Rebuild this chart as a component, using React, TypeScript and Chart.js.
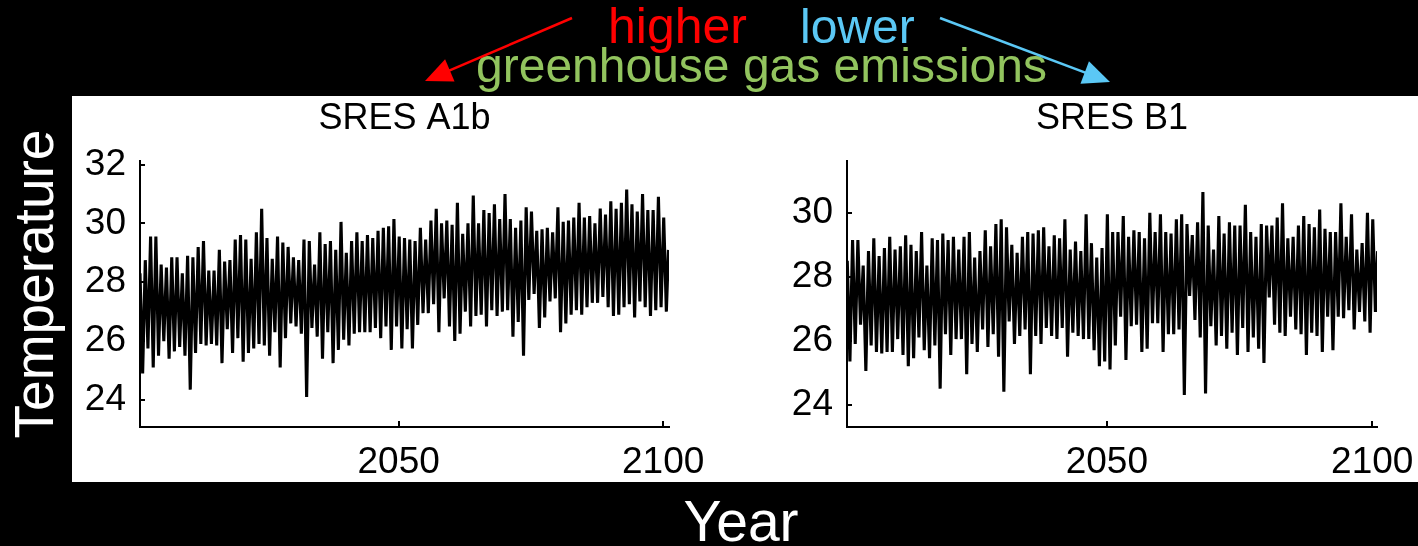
import React, { useEffect, useRef } from 'react';
import { Chart, registerables } from 'chart.js';

Chart.register(...registerables);

// ---------- data ----------
const YEARS: number[] = Array.from({ length: 100 }, (_, i) => 2001 + i);
const X_TICKS = [2050, 2100];

// SRES A1b : yearly seasonal maximum / minimum
const A1B_PEAKS = [
  28.3, 28.75, 29.55, 29.55, 28.6, 28.5, 28.85, 28.85, 28.3, 28.9,
  28.85, 29.2, 29.4, 28.4, 28.4, 29.1, 28.7, 28.75, 29.45, 29.6,
  29.45, 28.8, 29.7, 30.5, 29.5, 28.8, 29.55, 29.35, 29.2, 28.85,
  28.75, 29.45, 29.4, 28.6, 29.7, 29.3, 29.4, 29.1, 30.05, 29.0,
  29.4, 29.7, 29.4, 29.6, 29.5, 29.75, 29.85, 29.9, 30.15, 29.55,
  29.5, 29.45, 29.4, 29.85, 29.45, 30.1, 30.5, 30.0, 30.1, 29.95,
  30.7, 29.65, 30.0, 30.95, 30.0, 30.45, 30.35, 30.65, 30.15, 31.0,
  30.15, 29.85, 30.1, 30.55, 30.4, 29.75, 29.8, 29.85, 29.7, 30.55,
  30.05, 30.1, 30.2, 30.7, 30.2, 30.25, 30.0, 30.5, 30.3, 30.75,
  30.5, 30.7, 31.15, 30.65, 30.4, 31.0, 30.45, 30.45, 30.9, 30.2,
];
const A1B_TROUGHS = [
  24.9, 25.75, 25.1, 25.5, 26.0, 25.4, 25.65, 25.8, 25.5, 24.35,
  25.6, 25.9, 25.85, 25.9, 25.85, 25.25, 26.4, 25.6, 26.1, 25.3,
  25.6, 25.75, 25.9, 25.85, 25.5, 26.3, 25.1, 26.1, 26.6, 26.5,
  26.25, 24.1, 26.45, 26.15, 25.4, 26.3, 25.25, 25.7, 26.05, 25.85,
  26.25, 26.3, 26.3, 26.3, 26.45, 26.1, 26.5, 25.7, 26.5, 25.75,
  26.4, 25.75, 26.55, 26.95, 26.95, 27.25, 26.3, 27.45, 26.5, 26.0,
  26.25, 27.0, 26.5, 26.85, 26.9, 26.5, 27.05, 26.85, 27.0, 27.05,
  26.15, 26.65, 25.5, 27.4, 27.6, 26.45, 26.8, 27.35, 27.45, 26.3,
  26.6, 26.9, 27.05, 26.9, 27.15, 27.3, 27.3, 27.5, 27.15, 26.85,
  26.9, 27.15, 27.25, 26.8, 27.35, 27.15, 26.85, 27.05, 27.15, 27.0,
];
const A1B_END = 29.1;
const A1B_Y_TICKS = [24, 26, 28, 30, 32];

// SRES B1 : yearly seasonal maximum / minimum
const B1_PEAKS = [
  28.5, 29.15, 29.15, 28.35, 28.8, 29.2, 28.65, 28.9, 29.25, 28.85,
  28.95, 29.3, 29.0, 28.8, 29.4, 28.35, 29.2, 29.15, 29.35, 29.15,
  29.25, 28.85, 29.25, 29.4, 28.6, 28.8, 29.45, 28.95, 29.65, 29.8,
  29.55, 29.0, 28.75, 29.25, 29.4, 29.35, 29.45, 29.55, 28.95, 29.3,
  29.2, 29.8, 28.85, 29.1, 28.8, 29.95, 29.05, 28.6, 28.9, 29.95,
  29.4, 29.4, 29.9, 29.25, 29.45, 29.4, 29.2, 30.0, 29.4, 29.95,
  29.4, 29.35, 29.8, 29.95, 29.65, 29.3, 29.7, 30.65, 29.6, 28.85,
  29.9, 29.35, 29.7, 29.6, 29.6, 30.25, 29.4, 29.25, 29.65, 29.6,
  29.6, 29.85, 30.3, 29.2, 29.25, 29.6, 29.9, 29.65, 29.55, 30.1,
  29.5, 29.4, 29.4, 30.3, 29.25, 29.95, 28.85, 29.05, 30.0, 29.8,
];
const B1_TROUGHS = [
  25.35, 25.9, 26.5, 25.05, 25.85, 25.65, 25.6, 25.65, 25.65, 26.05,
  25.55, 25.2, 25.45, 26.1, 25.7, 25.45, 25.85, 24.5, 26.2, 25.55,
  26.05, 26.05, 24.95, 25.9, 25.65, 26.35, 25.8, 26.2, 25.5, 24.4,
  26.6, 25.9, 26.15, 26.35, 24.95, 26.15, 25.9, 26.4, 26.15, 26.05,
  26.4, 25.5, 26.25, 26.15, 26.05, 26.05, 25.7, 25.2, 25.35, 25.1,
  25.85, 26.75, 25.4, 26.45, 26.5, 25.65, 25.75, 26.55, 26.55, 25.65,
  26.2, 26.2, 26.35, 24.3, 27.4, 26.65, 26.1, 24.35, 26.45, 25.85,
  26.15, 25.75, 26.25, 25.55, 26.4, 25.65, 26.1, 25.75, 25.3, 27.35,
  26.5, 26.25, 26.15, 26.75, 26.35, 26.2, 25.55, 26.25, 26.15, 25.65,
  26.75, 25.7, 26.75, 26.7, 26.95, 26.35, 26.9, 26.6, 26.25, 26.9,
];
const B1_END = 28.8;
const B1_Y_TICKS = [24, 26, 28, 30];

// ---------- helpers ----------
const FONT = '"Liberation Sans", Arial, Helvetica, sans-serif';

function buildSeries(peaks: number[], troughs: number[], end: number) {
  const pts: { x: number; y: number }[] = [];
  YEARS.forEach((yr, i) => {
    pts.push({ x: yr + 0.1, y: peaks[i] });
    pts.push({ x: yr + 0.6, y: troughs[i] });
  });
  pts.push({ x: YEARS[YEARS.length - 1] + 1, y: end });
  return pts;
}

const inwardTicks = {
  id: 'inwardTicks',
  afterDraw(chart: any) {
    const { ctx, chartArea } = chart;
    const xs = chart.scales.x;
    const ys = chart.scales.y;
    ctx.save();
    ctx.strokeStyle = '#000';
    ctx.lineWidth = 2;
    ys.ticks.forEach((t: any) => {
      const py = Math.round(ys.getPixelForValue(t.value));
      ctx.beginPath();
      ctx.moveTo(chartArea.left, py);
      ctx.lineTo(chartArea.left + 5, py);
      ctx.stroke();
    });
    xs.ticks.forEach((t: any) => {
      const px = Math.round(xs.getPixelForValue(t.value));
      ctx.beginPath();
      ctx.moveTo(px, chartArea.bottom);
      ctx.lineTo(px, chartArea.bottom - 6);
      ctx.stroke();
    });
    ctx.restore();
  },
};

interface PanelCfg {
  title: string;
  peaks: number[];
  troughs: number[];
  end: number;
  yMin: number;
  yMax: number;
  yTicks: number[];
  xMin: number;
  xMax: number;
  yAxisWidth: number;
  padRight: number;
}

function makeChart(canvas: HTMLCanvasElement, c: PanelCfg) {
  return new Chart(canvas, {
    type: 'line',
    data: {
      datasets: [
        {
          data: buildSeries(c.peaks, c.troughs, c.end),
          borderColor: '#000',
          borderWidth: 3.1,
          pointRadius: 0,
          tension: 0,
          fill: false,
        },
      ],
    },
    options: {
      animation: false,
      responsive: false,
      devicePixelRatio: 1,
      layout: { padding: { left: 0, right: c.padRight, top: 0, bottom: 0 } },
      plugins: {
        legend: { display: false },
        tooltip: { enabled: false },
        title: {
          display: true,
          text: c.title,
          color: '#000',
          fullSize: false,
          font: { family: FONT, size: 36, weight: 'normal' },
          padding: { top: 1.5, bottom: 20.3 },
        },
      },
      scales: {
        x: {
          type: 'linear',
          min: c.xMin,
          max: c.xMax,
          grid: { display: false, drawTicks: false },
          border: { display: true, color: '#000', width: 2 },
          afterBuildTicks: (s: any) => {
            s.ticks = X_TICKS.map((v) => ({ value: v }));
          },
          afterFit: (s: any) => {
            s.height = 55;
            s.paddingLeft = 0;
            s.paddingRight = 0;
          },
          ticks: {
            color: '#000',
            padding: 14,
            maxRotation: 0,
            font: { family: FONT, size: 37 },
            callback: (v: any) => String(v),
          },
        },
        y: {
          type: 'linear',
          min: c.yMin,
          max: c.yMax,
          grid: { display: false, drawTicks: false },
          border: { display: true, color: '#000', width: 2 },
          afterBuildTicks: (s: any) => {
            s.ticks = c.yTicks.map((v) => ({ value: v }));
          },
          afterFit: (s: any) => {
            s.width = c.yAxisWidth;
            s.paddingTop = 0;
            s.paddingBottom = 0;
          },
          ticks: {
            color: '#000',
            padding: 14,
            font: { family: FONT, size: 37 },
            callback: (v: any) => String(v),
          },
        },
      },
    } as any,
    plugins: [inwardTicks],
  });
}

function arrowHead(sx: number, sy: number, tx: number, ty: number, len: number, half: number) {
  const dx = tx - sx;
  const dy = ty - sy;
  const L = Math.hypot(dx, dy);
  const ux = dx / L;
  const uy = dy / L;
  const bx = tx - ux * len;
  const by = ty - uy * len;
  const px = -uy;
  const py = ux;
  return {
    line: { x2: bx + ux * 2, y2: by + uy * 2 },
    points: `${tx},${ty} ${bx + px * half},${by + py * half} ${bx - px * half},${by - py * half}`,
  };
}

export default function App() {
  const leftRef = useRef<HTMLCanvasElement>(null);
  const rightRef = useRef<HTMLCanvasElement>(null);

  useEffect(() => {
    const a = makeChart(leftRef.current!, {
      title: 'SRES A1b',
      peaks: A1B_PEAKS,
      troughs: A1B_TROUGHS,
      end: A1B_END,
      yMin: 23.08,
      yMax: 32.12,
      yTicks: A1B_Y_TICKS,
      xMin: 2001.1,
      xMax: 2101.1,
      yAxisWidth: 68,
      padRight: 43,
    });
    const b = makeChart(rightRef.current!, {
      title: 'SRES B1',
      peaks: B1_PEAKS,
      troughs: B1_TROUGHS,
      end: B1_END,
      yMin: 23.3,
      yMax: 31.62,
      yTicks: B1_Y_TICKS,
      xMin: 2001.05,
      xMax: 2100.9,
      yAxisWidth: 135,
      padRight: 41,
    });
    return () => {
      a.destroy();
      b.destroy();
    };
  }, []);

  const red = arrowHead(572, 18, 425, 81, 27, 12);
  const blue = arrowHead(940, 18, 1110, 82, 27, 12);

  return (
    <div
      style={{
        position: 'fixed',
        left: 0,
        top: 0,
        width: 1418,
        height: 546,
        background: '#000',
        overflow: 'hidden',
      }}
    >
      <div
        style={{
          position: 'absolute',
          left: 72,
          top: 96,
          width: 1346,
          height: 386,
          background: '#fff',
        }}
      />
      <canvas
        ref={leftRef}
        width={640}
        height={386}
        style={{ position: 'absolute', left: 72, top: 96, width: 640, height: 386 }}
      />
      <canvas
        ref={rightRef}
        width={706}
        height={386}
        style={{ position: 'absolute', left: 712, top: 96, width: 706, height: 386 }}
      />
      <svg
        width={1418}
        height={546}
        style={{ position: 'absolute', left: 0, top: 0, pointerEvents: 'none' }}
      >
        <g fontFamily={FONT}>
          <text x={608} y={43} fontSize={50} fill="#ff0000">higher</text>
          <text x={800} y={43} fontSize={48} fill="#5bc8f5">lower</text>
          <text x={476} y={82} fontSize={48} fill="#92c45e">greenhouse gas emissions</text>
          <text x={53} y={284} fontSize={55} fill="#fff" textAnchor="middle" transform="rotate(-90 53 284)">
            Temperature
          </text>
          <text x={741} y={541} fontSize={57} fill="#fff" textAnchor="middle">Year</text>
        </g>
        <line x1={572} y1={18} x2={red.line.x2} y2={red.line.y2} stroke="#ff0000" strokeWidth={2.5} />
        <polygon points={red.points} fill="#ff0000" />
        <line x1={940} y1={18} x2={blue.line.x2} y2={blue.line.y2} stroke="#5bc8f5" strokeWidth={2.5} />
        <polygon points={blue.points} fill="#5bc8f5" />
      </svg>
    </div>
  );
}
